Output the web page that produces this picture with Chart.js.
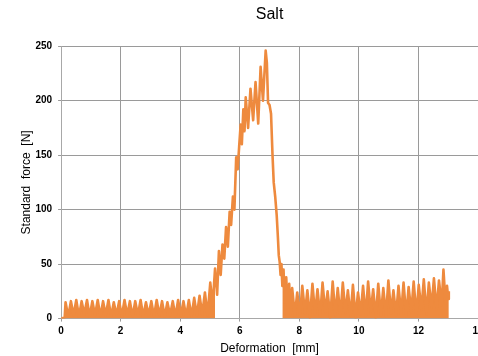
<!DOCTYPE html>
<html>
<head>
<meta charset="utf-8">
<script src="https://cdn.jsdelivr.net/npm/chart.js@4.4.0/dist/chart.umd.min.js"></script>
<style>
    html, body { margin: 0; padding: 0; background: #fff; }
    #wrap { width: 478px; height: 356px; }
</style>
</head>
<body>
<div id="wrap"><canvas id="chart"></canvas></div>
<script>
"use strict";

// deformation [mm]
const deformation = [
    0, 0.12,
    0.15, 0.24, 0.33, 0.42, 0.51, 0.60, 0.69, 0.78, 0.87, 0.96,
    1.05, 1.14, 1.23, 1.32, 1.41, 1.50, 1.59, 1.68, 1.77, 1.86, 1.95,
    2.04, 2.13, 2.22, 2.31, 2.40, 2.49, 2.58, 2.67, 2.76, 2.85, 2.94,
    3.03, 3.12, 3.21, 3.30, 3.39, 3.48, 3.57, 3.66, 3.75, 3.84, 3.93,
    4.02, 4.11, 4.20, 4.29, 4.38, 4.47, 4.56, 4.65, 4.74, 4.83, 4.92,
    5.01, 5.09, 5.17, 5.24, 5.30, 5.36, 5.42, 5.48, 5.54, 5.60, 5.66, 5.71, 5.77, 5.82, 5.88, 5.93, 5.98,
    6.03, 6.07, 6.12, 6.16, 6.20, 6.28, 6.36, 6.45, 6.53, 6.62, 6.70, 6.78, 6.87, 6.91, 6.95,
    7.00, 7.05, 7.10, 7.14, 7.19, 7.24, 7.28, 7.31, 7.34, 7.37, 7.40, 7.43, 7.47, 7.51, 7.56, 7.61, 7.66, 7.71,
    7.76, 7.85, 7.93, 8.02, 8.10, 8.19, 8.27, 8.36, 8.44, 8.53, 8.61, 8.70, 8.78, 8.87, 8.95,
    9.04, 9.12, 9.21, 9.29, 9.38, 9.46, 9.55, 9.63, 9.72, 9.80, 9.89, 9.97,
    10.06, 10.14, 10.23, 10.31, 10.40, 10.48, 10.57, 10.65, 10.74, 10.82, 10.91, 10.99,
    11.08, 11.16, 11.25, 11.33, 11.42, 11.50, 11.59, 11.67, 11.76, 11.84, 11.93,
    12.01, 12.10, 12.18, 12.27, 12.35, 12.44, 12.52, 12.61, 12.69, 12.78, 12.84, 12.91, 12.96,
    13.00, 13.02
];

// standard force [N]
const force = [
    0, 1,
    15, 2, 16, 3, 17, 2, 16, 4, 17, 2,
    16, 3, 17, 2, 16, 3, 17, 2, 15, 3, 16,
    2, 17, 3, 16, 2, 16, 3, 17, 2, 15, 3,
    16, 2, 17, 3, 16, 2, 15, 3, 16, 2, 17,
    3, 16, 2, 17, 2, 19, 3, 21, 4, 24, 3,
    33, 12, 46, 22, 62, 40, 68, 55, 84, 66, 98, 86, 112, 100, 148, 137, 158,
    178, 160, 192, 172, 203, 175, 211, 182, 217, 179, 231, 200, 246, 235, 198,
    196, 188, 150, 125, 112, 95, 75, 58, 52, 40, 50, 30, 45, 15, 38, 10, 32, 4,
    28, 3, 24, 2, 30, 5, 26, 1, 32, 4, 27, 2, 33, 6, 25,
    1, 34, 3, 28, 2, 33, 5, 26, 2, 31, 1, 24,
    4, 30, 2, 34, 6, 27, 1, 32, 3, 28, 2, 35,
    5, 26, 3, 30, 4, 33, 2, 29, 6, 34, 3,
    31, 8, 36, 4, 33, 10, 37, 8, 35, 12, 45, 14, 30,
    18, 25
];

// the dense low-force noise reads as a filled band outside the main peak
const peakStart = 5.2;
const peakEnd = 7.42;

const xTicks = [0, 2, 4, 6, 8, 10, 12, 14];
const yTicks = [0, 50, 100, 150, 200, 250];

const lineColor = "#ee8a3e";

const points = deformation.map((d, i) => ({ x: d, y: force[i] }));
const bandPoints = deformation.map((d, i) => ({
    x: d,
    y: (d > peakStart && d < peakEnd) ? null : force[i]
}));

const tickFont = { family: "'Liberation Sans', Arial, sans-serif", size: 10, weight: "bold" };
const labelFont = { family: "'Liberation Sans', Arial, sans-serif", size: 12 };

const myChart = new Chart(document.getElementById("chart"), {
    type: "line",
    data: {
        datasets: [
            {
                label: "Salt",
                data: points,
                borderColor: lineColor,
                borderWidth: 2.6,
                borderJoinStyle: "round",
                pointRadius: 0,
                tension: 0,
                order: 1
            },
            {
                label: "band",
                data: bandPoints,
                borderWidth: 0,
                borderColor: "rgba(0,0,0,0)",
                backgroundColor: lineColor,
                fill: "origin",
                pointRadius: 0,
                tension: 0,
                spanGaps: false,
                order: 2
            }
        ]
    },
    options: {
        responsive: true,
        maintainAspectRatio: false,
        animation: false,
        layout: { padding: { left: 19, right: 0, top: 0, bottom: 0 } },
        plugins: {
            legend: { display: false },
            tooltip: { enabled: false },
            title: {
                display: true,
                text: "Salt",
                fullSize: false,
                color: "#000",
                font: { family: "'Liberation Sans', Arial, sans-serif", size: 16, weight: "normal" },
                padding: { top: 5, bottom: 22 }
            }
        },
        scales: {
            x: {
                type: "linear",
                min: 0,
                max: 14,
                afterBuildTicks: (scale) => { scale.ticks = xTicks.map((v) => ({ value: v })); },
                afterFit: (scale) => { scale.paddingRight = 0; },
                ticks: { color: "#000", font: tickFont, padding: 4, maxRotation: 0 },
                grid: { color: "#9a9a9a", lineWidth: 1, tickLength: 3 },
                border: { color: "#a8a8a8" },
                title: {
                    display: true,
                    text: "Deformation  [mm]",
                    color: "#000",
                    font: labelFont,
                    padding: { top: 0, bottom: 0 }
                }
            },
            y: {
                min: 0,
                max: 250,
                afterBuildTicks: (scale) => { scale.ticks = yTicks.map((v) => ({ value: v })); },
                ticks: { color: "#000", font: tickFont, padding: 6 },
                grid: { color: "#9a9a9a", lineWidth: 1, tickLength: 3 },
                border: { color: "#a8a8a8" },
                title: {
                    display: true,
                    text: "Standard  force  [N]",
                    color: "#000",
                    font: labelFont,
                    padding: { top: 0, bottom: -4 }
                }
            }
        }
    }
});
</script>
</body>
</html>
